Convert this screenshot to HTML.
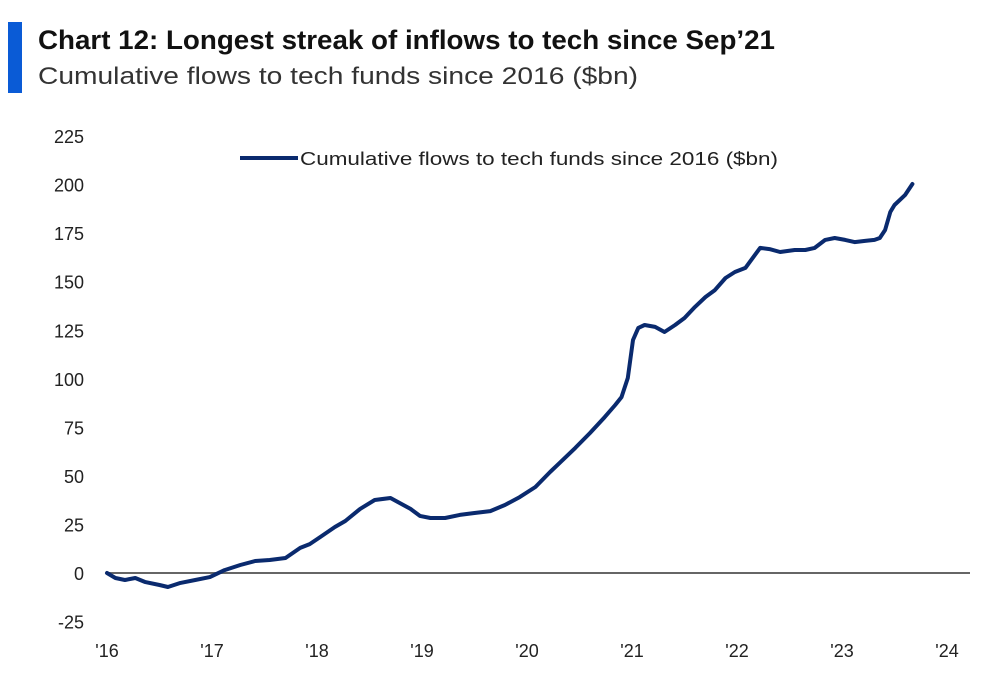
<!DOCTYPE html>
<html><head><meta charset="utf-8"><style>
body{margin:0;background:#fff;width:991px;height:680px;overflow:hidden;font-family:"Liberation Sans",sans-serif}
</style></head><body>
<svg id="c" width="991" height="680" xmlns="http://www.w3.org/2000/svg">
<rect x="8" y="22" width="14" height="71" fill="#0a5bd6"/>
<text x="38" y="49" font-size="27" font-weight="bold" fill="#111" textLength="737" lengthAdjust="spacingAndGlyphs">Chart 12: Longest streak of inflows to tech since Sep’21</text>
<text x="38" y="84" font-size="24" fill="#333" textLength="600" lengthAdjust="spacingAndGlyphs">Cumulative flows to tech funds since 2016 ($bn)</text>
<line x1="240" y1="158" x2="298" y2="158" stroke="#0a2a6e" stroke-width="4"/>
<text x="300" y="165" font-size="18" fill="#222" textLength="478" lengthAdjust="spacingAndGlyphs">Cumulative flows to tech funds since 2016 ($bn)</text>
<g id="axes"></g>
<g id="plot"></g>
</svg>
<script>
const yTicks=[225,200,175,150,125,100,75,50,25,0,-25];
const xTickLabels=["'16","'17","'18","'19","'20","'21","'22","'23","'24"];
const xTickYears=[2016,2017,2018,2019,2020,2021,2022,2023,2024];
const dates=[2016,2016.08,2016.17,2016.27,2016.36,2016.5,2016.58,2016.7,2016.84,2016.98,2017.12,2017.27,2017.41,2017.55,2017.7,2017.84,2017.93,2018.03,2018.17,2018.27,2018.41,2018.55,2018.7,2018.79,2018.89,2018.98,2019.08,2019.22,2019.36,2019.5,2019.65,2019.79,2019.93,2020.08,2020.22,2020.31,2020.46,2020.6,2020.74,2020.84,2020.9,2020.96,2021.01,2021.06,2021.12,2021.22,2021.31,2021.41,2021.5,2021.6,2021.7,2021.79,2021.89,2021.98,2022.08,2022.22,2022.31,2022.41,2022.55,2022.65,2022.74,2022.84,2022.93,2023.03,2023.12,2023.22,2023.31,2023.36,2023.41,2023.46,2023.5,2023.6,2023.67];
const values=[0,-2.6,-3.6,-2.6,-4.6,-6.2,-7.2,-5.1,-3.6,-2.1,1.5,4.1,6.2,6.7,7.7,12.9,14.9,18.5,23.7,26.8,33,37.6,38.6,36,33,29.4,28.3,28.3,29.9,30.9,31.9,35,39.1,44.3,52,56.6,64.4,72.1,80.3,86.5,90.6,100.4,120,126.2,127.7,126.7,124.1,127.7,131.3,137,142.1,145.7,151.9,155,157.1,167.4,166.8,165.3,166.3,166.3,167.4,171.5,172.5,171.5,170.4,171,171.5,172.5,176.6,185.9,189.5,194.6,200.3];
const NS="http://www.w3.org/2000/svg";
const X=t=>107+(t-2016)*105;
const Y=v=>573-v*1.942;
const axes=document.getElementById('axes'),plot=document.getElementById('plot');
function mk(tag,attrs,parent){const e=document.createElementNS(NS,tag);for(const k in attrs)e.setAttribute(k,attrs[k]);parent.appendChild(e);return e;}
yTicks.forEach(v=>{
 const t=mk('text',{x:84,y:Y(v)+7,'font-size':18,fill:'#222','text-anchor':'end'},axes);
 
 
 t.textContent=v;
});
xTickYears.forEach((yr,i)=>{
 const t=mk('text',{x:X(yr),y:657,'font-size':18,fill:'#222','text-anchor':'middle'},axes);
 
 
 t.textContent=xTickLabels[i];
});
const zl=mk('line',{x1:X(2016),x2:970,y1:Y(0),y2:Y(0),stroke:'#666','stroke-width':2},axes);


const p=mk('path',{d:dates.map((d,i)=>(i?'L':'M')+X(d).toFixed(1)+','+Y(values[i]).toFixed(1)).join(''),fill:'none',stroke:'#0a2a6e','stroke-width':4,'stroke-linejoin':'round','stroke-linecap':'round'},plot);


</script>
</body></html>
